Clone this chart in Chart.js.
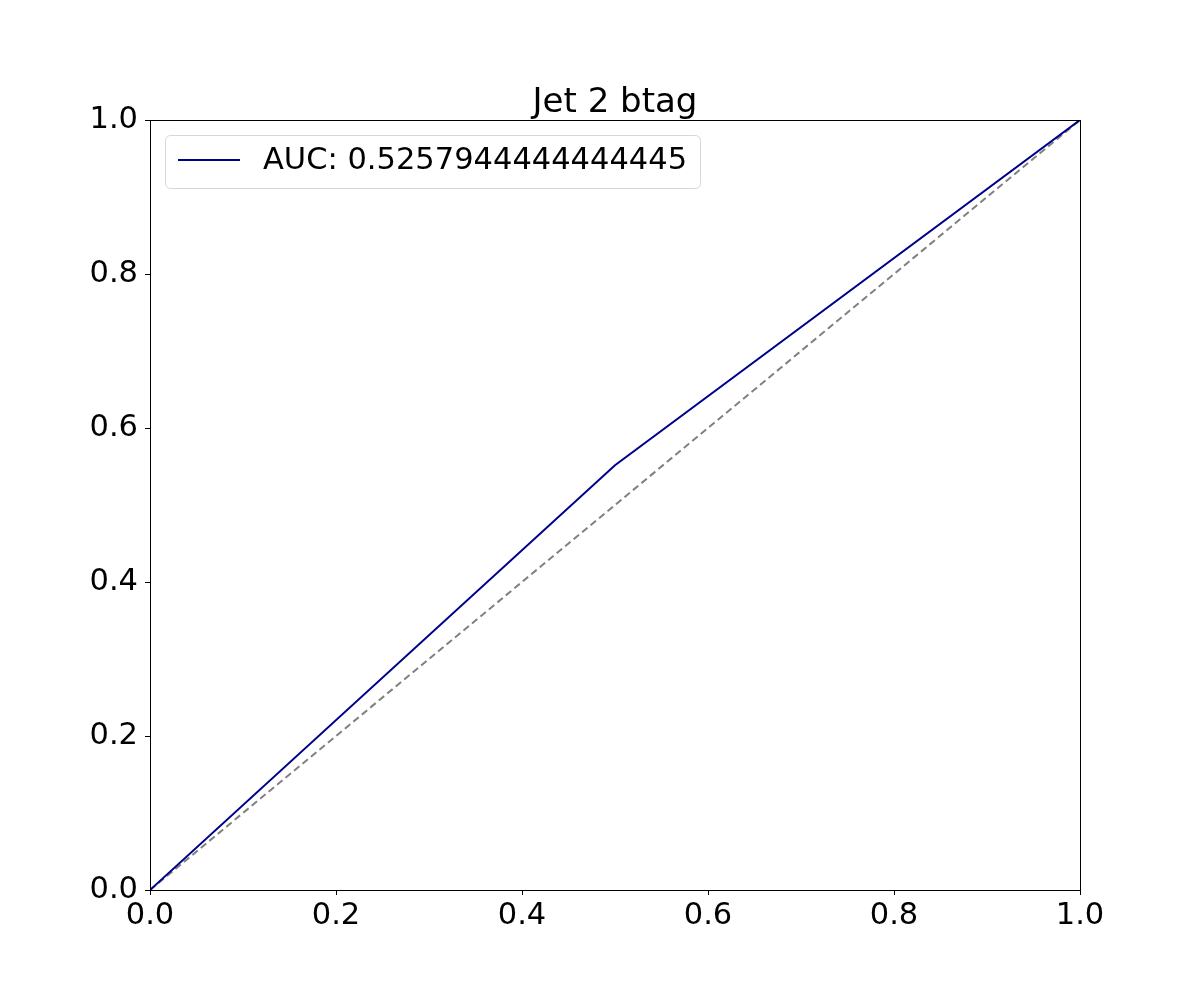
<!DOCTYPE html>
<html>
<head>
<meta charset="utf-8">
<script src="https://cdn.jsdelivr.net/npm/chart.js@4.4.1/dist/chart.umd.min.js"></script>
<style>
  html, body { margin: 0; padding: 0; background: #fff; }
  #wrap { width: 1200px; height: 1000px; }
</style>
</head>
<body>
<div id="wrap"><canvas id="roc" width="1200" height="1000"></canvas></div>
<script>
// ROC curve values
const rocFpr = [0.0, 0.5, 1.0];
const rocTpr = [0.0, 0.5516, 1.0];
const chanceX = [0.0, 1.0];
const chanceY = [0.0, 1.0];
const tickValues = [0.0, 0.2, 0.4, 0.6, 0.8, 1.0];
const chartTitle = "Jet 2 btag";
const rocLabel = "AUC: 0.5257944444444445";

const FONT = "'DejaVu Sans', sans-serif";
const TEXT_SIZE = 30.5;

// matplotlib-ish frame, title and legend
const framePlugin = {
  id: "frame",
  afterDraw(chart) {
    const { ctx, chartArea: a } = chart;
    ctx.save();
    ctx.strokeStyle = "#000";
    ctx.lineWidth = 1;
    ctx.strokeRect(Math.round(a.left) + 0.5, Math.round(a.top) + 0.5, Math.round(a.right - a.left), Math.round(a.bottom - a.top));

    ctx.fillStyle = "#000";
    ctx.font = "34px " + FONT;
    ctx.textAlign = "center";
    ctx.textBaseline = "alphabetic";
    ctx.fillText(chartTitle, (a.left + a.right) / 2, a.top - 8);

    // legend box
    const bx = 165.5, by = 135.5, bw = 535, bh = 53, r = 5;
    ctx.beginPath();
    ctx.moveTo(bx + r, by);
    ctx.arcTo(bx + bw, by, bx + bw, by + bh, r);
    ctx.arcTo(bx + bw, by + bh, bx, by + bh, r);
    ctx.arcTo(bx, by + bh, bx, by, r);
    ctx.arcTo(bx, by, bx + bw, by, r);
    ctx.closePath();
    ctx.fillStyle = "rgba(255,255,255,0.8)";
    ctx.fill();
    ctx.strokeStyle = "#d6d6d6";
    ctx.stroke();

    ctx.strokeStyle = "#00008b";
    ctx.lineWidth = 2;
    ctx.beginPath();
    ctx.moveTo(178, 160);
    ctx.lineTo(240, 160);
    ctx.stroke();

    ctx.fillStyle = "#000";
    ctx.font = TEXT_SIZE + "px " + FONT;
    ctx.textAlign = "left";
    ctx.textBaseline = "middle";
    ctx.fillText(rocLabel, 263, 161);
    ctx.restore();
  }
};

const axisCommon = {
  type: "linear",
  min: 0,
  max: 1,
  grid: { display: true, drawOnChartArea: false, drawTicks: true, tickLength: 5, color: "#000", tickColor: "#000" },
  border: { display: true, color: "#000" },
  afterBuildTicks(scale) { scale.ticks = tickValues.map((v) => ({ value: v })); }
};

new Chart(document.getElementById("roc"), {
  type: "scatter",
  data: {
    datasets: [
      {
        label: rocLabel,
        data: rocFpr.map((x, i) => ({ x, y: rocTpr[i] })),
        showLine: true,
        borderColor: "#00008b",
        borderWidth: 2,
        pointRadius: 0,
        tension: 0
      },
      {
        label: "chance",
        data: chanceX.map((x, i) => ({ x, y: chanceY[i] })),
        showLine: true,
        borderColor: "#808080",
        borderWidth: 2,
        borderDash: [7, 4],
        pointRadius: 0
      }
    ]
  },
  options: {
    responsive: false,
    animation: false,
    layout: { padding: { left: 0, top: 120, right: 120, bottom: 0 } },
    plugins: { legend: { display: false }, tooltip: { enabled: false }, title: { display: false } },
    scales: {
      x: Object.assign({}, axisCommon, {
        ticks: { color: "#000", font: { family: FONT, size: TEXT_SIZE }, padding: 3, maxRotation: 0, callback: (v) => v.toFixed(1) },
        afterFit(scale) { scale.height = 110; }
      }),
      y: Object.assign({}, axisCommon, {
        ticks: { color: "#000", font: { family: FONT, size: TEXT_SIZE }, padding: 7, callback: (v) => v.toFixed(1) },
        afterFit(scale) { scale.width = 150; }
      })
    }
  },
  plugins: [framePlugin]
});
</script>
</body>
</html>
